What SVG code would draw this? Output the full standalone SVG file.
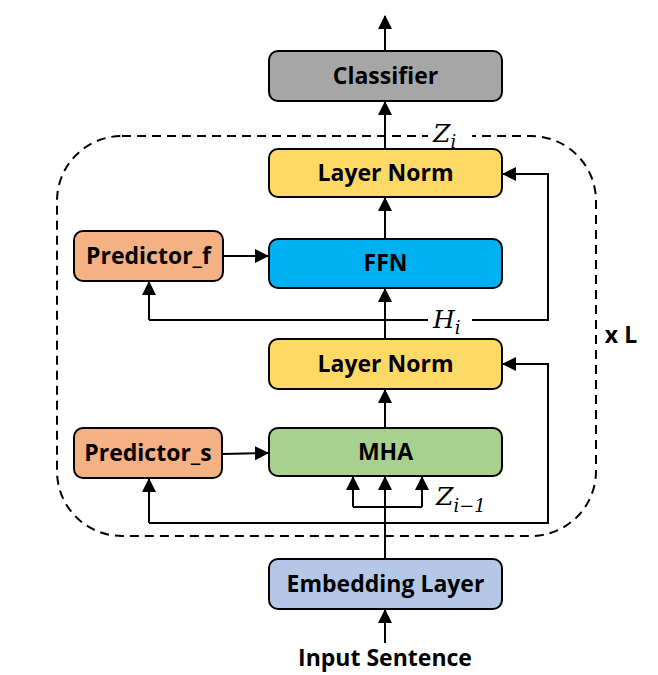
<svg xmlns="http://www.w3.org/2000/svg" width="658" height="675" viewBox="0 0 658 675">
<style>
.box{stroke:#000;stroke-width:2}
.t{font-family:"Open Sans","Noto Sans",sans-serif;font-weight:bold;font-size:23px;fill:#000;text-anchor:middle}
.m{font-family:"DejaVu Serif","Liberation Serif",serif;font-style:italic;font-size:25px;fill:#000}
.c{fill:none;stroke:#000;stroke-width:2}
</style>
<defs>
<marker id="a" viewBox="0 0 14 14" refX="13" refY="7" markerWidth="14" markerHeight="14" markerUnits="userSpaceOnUse" orient="auto">
<path d="M0,0 L14,7 L0,14 z" fill="#000"/>
</marker>
</defs>
<rect x="57" y="136" width="539" height="400" rx="65" ry="65" fill="none" stroke="#000" stroke-width="2" stroke-dasharray="9,6"/>
<g id="connectors">
<path class="c" d="M385,51 L385,16" marker-end="url(#a)"/>
<path class="c" d="M385,149 L385,102" marker-end="url(#a)"/>
<path class="c" d="M385,239 L385,198" marker-end="url(#a)"/>
<path class="c" d="M385,339 L385,289" marker-end="url(#a)"/>
<path class="c" d="M385,428 L385,390" marker-end="url(#a)"/>
<path class="c" d="M223,256 L268,256" marker-end="url(#a)"/>
<path class="c" d="M222,454 L268,453" marker-end="url(#a)"/>
<path class="c" d="M149,320 L548,320 L548,174 L503,174" marker-end="url(#a)"/>
<path class="c" d="M149,320 L149,282" marker-end="url(#a)"/>
<path class="c" d="M149,523 L548,523 L548,364 L503,364" marker-end="url(#a)"/>
<path class="c" d="M149,523 L149,479" marker-end="url(#a)"/>
<path class="c" d="M385,559 L385,477" marker-end="url(#a)"/>
<path class="c" d="M353,507 L422,507"/>
<path class="c" d="M353,507 L353,477" marker-end="url(#a)"/>
<path class="c" d="M422,507 L422,477" marker-end="url(#a)"/>
<path class="c" d="M385,643 L385,610" marker-end="url(#a)"/>
</g>
<rect x="428" y="120" width="44" height="30" fill="#fff"/>
<text class="m" x="433" y="142">Z<tspan font-size="18" dy="6">i</tspan></text>
<rect x="428" y="306" width="44" height="28" fill="#fff"/>
<text class="m" x="433" y="328">H<tspan font-size="18" dy="6">i</tspan></text>
<text class="m" x="436" y="505">Z<tspan font-size="18" dy="7">i−1</tspan></text>
<g id="classifier"><rect class="box" x="269" y="51" width="233" height="50" rx="9" fill="#A6A6A6"/><text class="t" x="385.5" y="84">Classifier</text></g>
<g id="layernorm2"><rect class="box" x="269" y="149" width="233" height="48" rx="9" fill="#FFD966"/><text class="t" x="385.5" y="181">Layer Norm</text></g>
<g id="ffn"><rect class="box" x="269" y="239" width="233" height="49" rx="9" fill="#00B0F0"/><text class="t" x="385.5" y="271">FFN</text></g>
<g id="predictor_f"><rect class="box" x="74" y="231" width="149" height="50" rx="9" fill="#F4B183"/><text class="t" x="148.5" y="264">Predictor_f</text></g>
<g id="layernorm1"><rect class="box" x="269" y="339" width="233" height="50" rx="9" fill="#FFD966"/><text class="t" x="385.5" y="372">Layer Norm</text></g>
<g id="mha"><rect class="box" x="269" y="428" width="233" height="48" rx="9" fill="#A9D18E"/><text class="t" x="385.5" y="460">MHA</text></g>
<g id="predictor_s"><rect class="box" x="74" y="428" width="148" height="50" rx="9" fill="#F4B183"/><text class="t" x="148" y="461">Predictor_s</text></g>
<g id="embedding"><rect class="box" x="269" y="559" width="233" height="50" rx="9" fill="#B4C7E7"/><text class="t" x="385.5" y="592">Embedding Layer</text></g>
<g id="input"><text class="t" x="385" y="666">Input Sentence</text></g>
<g id="xl"><text class="t" x="621" y="343">x L</text></g>
</svg>
